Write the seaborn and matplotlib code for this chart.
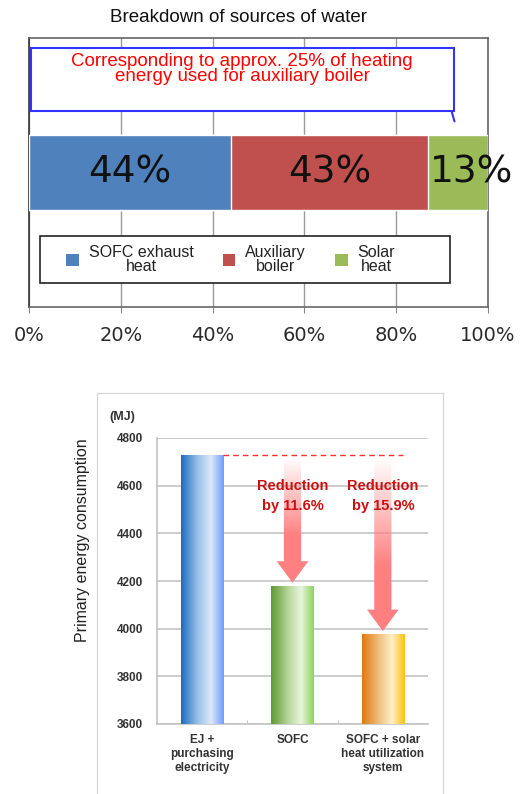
import numpy as np
import pandas as pd
import matplotlib
matplotlib.use("Agg")
import matplotlib.pyplot as plt
import seaborn as sns
from matplotlib.patches import Patch, Rectangle, FancyArrow
from matplotlib.colors import LinearSegmentedColormap, to_rgb

# top chart data
sources = ["SOFC exhaust\nheat", "Auxiliary\nboiler", "Solar\nheat"]
shares = [44, 43, 13]
share_labels = ["44%", "43%", "13%"]
source_colors = ["#4f81bd", "#c0504d", "#9bbb59"]
pct_ticks = [0, 20, 40, 60, 80, 100]
note = "Corresponding to approx. 25% of heating\nenergy used for auxiliary boiler"

# bottom chart data
systems = ["EJ +\npurchasing\nelectricity", "SOFC", "SOFC + solar\nheat utilization\nsystem"]
energy = [4730, 4181, 3978]
reductions = ["Reduction\nby 11.6%", "Reduction\nby 15.9%"]
energy_ticks = [3600, 3800, 4000, 4200, 4400, 4600, 4800]
bar_grads = [["#1a6cc0", "#9cc2ea", "#dce8fa", "#6f9cff"],
             ["#5e9a32", "#b6d69a", "#e8f4dc", "#8fd45a"],
             ["#e07810", "#f0c080", "#fdf0c8", "#ffc010"]]

sns.set_style("white")
plt.rcParams["font.family"] = ["Liberation Sans", "DejaVu Sans"]

W, H = 523, 794
fig = plt.figure(figsize=(W / 100, H / 100), dpi=100)


def fx(px):
    return px / W


def fy(py):
    return 1 - py / H


# ---------- top: stacked horizontal bar ----------
ax1 = fig.add_axes([fx(29), fy(307), fx(459), 269 / H])
df = pd.DataFrame({"source": sources, "share": shares, "row": "water"})
df["cum"] = df["share"].cumsum()
df["mid"] = df["cum"] - df["share"] / 2
for i in reversed(range(len(df))):
    sns.barplot(data=df.iloc[[i]], x="cum", y="row", color=source_colors[i],
                orient="h", width=0.56, saturation=1, ax=ax1, zorder=3)
for i, r in df.iterrows():
    ax1.text(r["mid"] + (3 if r["share"] < 20 else 0), 0, share_labels[i], ha="center", va="center",
             fontsize=27, color="#111111", family="DejaVu Sans", zorder=5)
ax1.set_xlim(0, 100)
ax1.set_ylim(1, -1)
ax1.set_xticks(pct_ticks)
ax1.set_xticklabels([f"{t}%" for t in pct_ticks], family="DejaVu Sans", fontsize=14, color="#2a2a2a")
ax1.set_yticks([])
ax1.set_xlabel("")
ax1.set_ylabel("")
ax1.tick_params(axis="x", length=4, pad=10, color="#888888", bottom=True)
ax1.xaxis.grid(True, color="#999999", lw=1, zorder=0)
ax1.set_axisbelow(True)
for s in ax1.spines.values():
    s.set_color("#666666")
    s.set_linewidth(1.2)
ax1.spines["left"].set_color("#333333")

box = Rectangle((0.004, 0.729), 0.922, 0.234, transform=ax1.transAxes,
                facecolor="white", edgecolor="#3333ff", lw=1.5, zorder=4)
ax1.add_patch(box)
ax1.plot([0.921, 0.927], [0.726, 0.69], transform=ax1.transAxes, color="#3333ff", lw=1.5, zorder=4)
ax1.text(0.464, 0.885, note, transform=ax1.transAxes, ha="center", va="center",
         color="#ff0000", fontsize=13.5, linespacing=0.86, zorder=6)

# legend: frame drawn separately, entries spread inside it
ax1.add_patch(Rectangle((0.024, 0.089), 0.893, 0.175, transform=ax1.transAxes,
                        facecolor="white", edgecolor="#222222", lw=1.2, zorder=5))
handles = [Patch(facecolor=c, edgecolor="none") for c in source_colors]
leg = ax1.legend(handles, sources, loc="center", ncol=3, mode="expand",
                 bbox_to_anchor=(0.074, 0.089, 0.73, 0.175), frameon=False,
                 fontsize=11.5, handlelength=0.8, handleheight=0.8,
                 handletextpad=0.6, borderaxespad=0, borderpad=0.2)
leg.set_zorder(6)
for t in leg.get_texts():
    t.set_multialignment("center")
    t.set_linespacing(0.95)
    t.set_color("#222222")

fig.text(fx(239), fy(18), "Breakdown of sources of water", ha="center", va="center",
         fontsize=13.5, color="#111111")

# ---------- bottom: primary energy consumption ----------
frame = fig.add_axes([fx(97), 0, fx(346), (794 - 393) / H])
frame.set_xticks([])
frame.set_yticks([])
for s in frame.spines.values():
    s.set_color("#d4d4d4")
frame.spines["bottom"].set_visible(False)

ax2 = fig.add_axes([fx(157), fy(724), fx(271), 286 / H])
ax2.patch.set_alpha(0)
edf = pd.DataFrame({"system": systems, "energy": energy})
sns.barplot(data=edf, x="system", y="energy", color="white", width=0.47,
            saturation=1, ax=ax2, zorder=3)
for patch, cols in zip(ax2.patches, bar_grads):
    x0, y0, w, h = patch.get_x(), patch.get_y(), patch.get_width(), patch.get_height()
    cmap = LinearSegmentedColormap.from_list("g", list(zip([0, 0.4, 0.7, 1], cols)))
    grad = np.linspace(0, 1, 256).reshape(1, -1)
    im = ax2.imshow(grad, extent=[x0, x0 + w, 3600, y0 + h], aspect="auto", cmap=cmap,
                    zorder=3.5)
    im.set_clip_path(patch)
    patch.set_edgecolor("none")

ax2.set_xlim(-0.5, 2.5)
ax2.set_ylim(3600, 4800)
ax2.set_yticks(energy_ticks)
ax2.set_yticklabels([str(t) for t in energy_ticks], fontsize=8.5, fontweight="bold", color="#333333")
ax2.set_xticks(range(len(systems)))
ax2.set_xticklabels(systems, fontsize=8.5, fontweight="bold", color="#333333", linespacing=1.25)
ax2.set_xlabel("")
ax2.set_ylabel("")
ax2.tick_params(axis="y", length=0, pad=10)
ax2.tick_params(axis="x", length=0, pad=7)
ax2.set_xticks([0.5, 1.5], minor=True)
ax2.tick_params(axis="x", which="minor", direction="in", length=3, color="#bbbbbb", bottom=True)
ax2.yaxis.grid(True, color="#c4c4c4", lw=1.2, zorder=0)
ax2.set_axisbelow(True)
for s in ["top", "right"]:
    ax2.spines[s].set_visible(False)
for s in ["left", "bottom"]:
    ax2.spines[s].set_color("#c4c4c4")
    ax2.spines[s].set_linewidth(1.2)

# dashed reference line and reduction arrows
ax2.plot([0.235, 2.22], [energy[0], energy[0]], ls=(0, (4, 3)), color="#ff3030", lw=1, zorder=4)
pink = np.array(to_rgb("#ff8080"))
for i, lab in enumerate(reductions, start=1):
    top = energy[0] - 10
    tip = energy[i] + 12
    arr = FancyArrow(i, top, 0, -(top - tip), width=0.19, head_width=0.35, head_length=90,
                     length_includes_head=True, facecolor="none", edgecolor="none", zorder=4)
    ax2.add_patch(arr)
    a = np.clip(np.linspace(0, 1.6, 256), 0, 1).reshape(-1, 1)
    rgba = np.zeros((256, 1, 4))
    rgba[..., :3] = pink
    rgba[..., 3] = a
    im = ax2.imshow(rgba, extent=[i - 0.2, i + 0.2, tip, top], aspect="auto", origin="upper", zorder=4)
    im.set_clip_path(arr)
    ax2.text(i, 4555, lab, ha="center", va="center", fontsize=10.5, fontweight="bold",
             color="#cc1010", linespacing=1.55, zorder=6)
ax2.set_xlim(-0.5, 2.5)
ax2.set_ylim(3600, 4800)

fig.text(fx(122), fy(417), "(MJ)", ha="center", va="center", fontsize=9, fontweight="bold", color="#333333")
fig.text(fx(82), fy(540), "Primary energy consumption", ha="center", va="center", rotation=90,
         fontsize=11.5, color="#222222")

fig.savefig("out.png", dpi=100)
